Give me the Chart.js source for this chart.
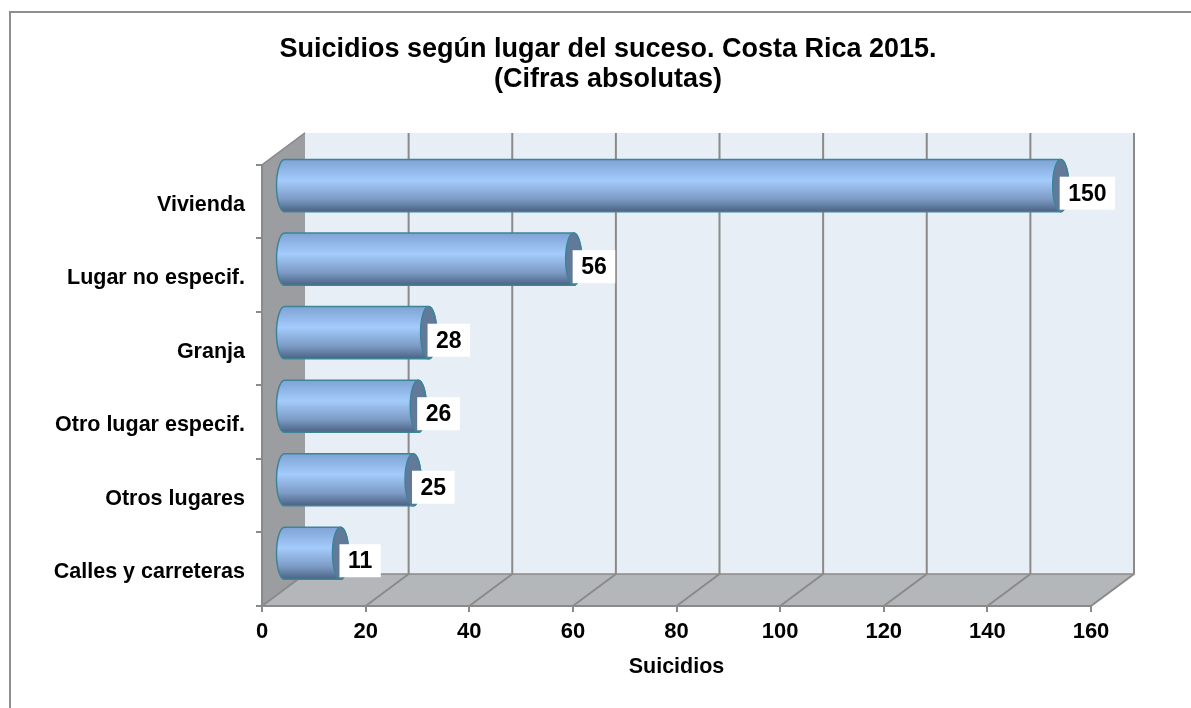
<!DOCTYPE html>
<html>
<head>
<meta charset="utf-8">
<script src="https://cdn.jsdelivr.net/npm/chart.js@4.4.1/dist/chart.umd.min.js"></script>
<style>
  html, body { margin: 0; padding: 0; background: #fff; }
  canvas { display: block; }
</style>
</head>
<body>
<canvas id="myChart1" width="1191" height="708"></canvas>
<script>
const lugares = ['Vivienda', 'Lugar no especif.', 'Granja', 'Otro lugar especif.', 'Otros lugares', 'Calles y carreteras'];
const suicidios = [150, 56, 28, 26, 25, 11];
const xTicks = [0, 20, 40, 60, 80, 100, 120, 140, 160];

const DX = 43, DY = -32; // depth of the 3d box
const fontName = '"Liberation Sans", Arial, sans-serif';

const box3d = {
    id: 'box3d',
    beforeDraw: function (chart) {
        const ctx = chart.ctx;
        const a = chart.chartArea;
        const xs = chart.scales.x;
        ctx.save();
        // outer frame
        ctx.strokeStyle = '#8e8e8e';
        ctx.lineWidth = 2;
        ctx.beginPath();
        ctx.moveTo(10, 708);
        ctx.lineTo(10, 12);
        ctx.lineTo(1191, 12);
        ctx.stroke();
        // back wall
        ctx.fillStyle = '#e8eef5';
        ctx.fillRect(a.left + DX, a.top + DY, a.right - a.left, a.bottom - a.top);
        // side wall
        ctx.fillStyle = '#9b9da1';
        ctx.beginPath();
        ctx.moveTo(a.left, a.top);
        ctx.lineTo(a.left + DX, a.top + DY);
        ctx.lineTo(a.left + DX, a.bottom + DY);
        ctx.lineTo(a.left, a.bottom);
        ctx.closePath();
        ctx.fill();
        // floor
        ctx.fillStyle = '#b4b7ba';
        ctx.beginPath();
        ctx.moveTo(a.left, a.bottom);
        ctx.lineTo(a.right, a.bottom);
        ctx.lineTo(a.right + DX, a.bottom + DY);
        ctx.lineTo(a.left + DX, a.bottom + DY);
        ctx.closePath();
        ctx.fill();
        // grid on wall and floor
        ctx.strokeStyle = '#8a8a8a';
        ctx.lineWidth = 2;
        xTicks.forEach(function (v) {
            const x = xs.getPixelForValue(v);
            ctx.beginPath();
            ctx.moveTo(x, a.bottom);
            ctx.lineTo(x + DX, a.bottom + DY);
            if (v > 0) ctx.lineTo(x + DX, a.top + DY);
            ctx.stroke();
        });
        ctx.lineWidth = 1.5;
        ctx.beginPath();
        ctx.moveTo(a.left + DX, a.bottom + DY);
        ctx.lineTo(a.right + DX, a.bottom + DY);
        ctx.moveTo(a.left, a.top);
        ctx.lineTo(a.left + DX, a.top + DY);
        ctx.stroke();
        ctx.restore();
    },
    afterDatasetsDraw: function (chart) {
        const ctx = chart.ctx;
        const meta = chart.getDatasetMeta(0);
        ctx.save();
        meta.data.forEach(function (bar, i) {
            const h = bar.height;
            const yc = bar.y + DY / 2;
            const x0 = bar.base + DX / 2;
            const x1 = bar.x + DX / 2;
            const top = yc - h / 2, bot = yc + h / 2;
            const rx = 8;
            const g = ctx.createLinearGradient(0, top, 0, bot);
            g.addColorStop(0, '#7ea3d4');
            g.addColorStop(0.4, '#a3cbfb');
            g.addColorStop(0.75, '#7d9cc6');
            g.addColorStop(1, '#4a6283');
            ctx.fillStyle = g;
            ctx.strokeStyle = '#3c8597';
            ctx.lineWidth = 1.5;
            ctx.beginPath();
            ctx.moveTo(x0, top);
            ctx.lineTo(x1, top);
            ctx.ellipse(x1, yc, rx, h / 2, 0, -Math.PI / 2, Math.PI / 2);
            ctx.lineTo(x0, bot);
            ctx.ellipse(x0, yc, rx, h / 2, 0, Math.PI / 2, Math.PI * 1.5);
            ctx.closePath();
            ctx.fill();
            ctx.stroke();
            // end cap
            ctx.fillStyle = '#62799a';
            ctx.beginPath();
            ctx.ellipse(x1, yc, rx, h / 2, 0, 0, Math.PI * 2);
            ctx.fill();
            ctx.stroke();
            // value label
            const txt = String(suicidios[i]);
            ctx.font = 'bold 23px ' + fontName;
            const w = ctx.measureText(txt).width + 17;
            const bh = 33;
            const by = yc + 7.5;
            ctx.fillStyle = '#ffffff';
            ctx.fillRect(x1 - 1, by - bh / 2, w, bh);
            ctx.fillStyle = '#000000';
            ctx.textAlign = 'center';
            ctx.textBaseline = 'middle';
            ctx.fillText(txt, x1 - 1 + w / 2, by + 1);
        });
        ctx.restore();
    }
};

const oneChart = new Chart(document.getElementById('myChart1'), {
    type: 'bar',
    data: {
        labels: lugares,
        datasets: [{
            data: suicidios,
            backgroundColor: 'rgba(0,0,0,0)',
            borderWidth: 0,
            barPercentage: 0.71,
            categoryPercentage: 1
        }]
    },
    options: {
        indexAxis: 'y',
        responsive: false,
        animation: false,
        devicePixelRatio: 1,
        layout: { padding: { left: 25, right: 0, top: 0, bottom: 0 } },
        plugins: {
            legend: { display: false },
            tooltip: { enabled: false },
            title: {
                display: true,
                text: ['Suicidios según lugar del suceso. Costa Rica 2015.', '(Cifras absolutas)'],
                color: '#000',
                font: { family: fontName, size: 27, weight: 'bold', lineHeight: 1.11 },
                padding: { top: 35, bottom: 70 }
            }
        },
        scales: {
            x: {
                min: 0,
                max: 160,
                ticks: {
                    stepSize: 20,
                    color: '#000',
                    padding: 7,
                    font: { family: fontName, size: 22, weight: 'bold' }
                },
                grid: { drawOnChartArea: false, drawTicks: true, tickLength: 6, color: '#8a8a8a', lineWidth: 2 },
                border: { display: true, color: '#8a8a8a', width: 2 },
                title: {
                    display: true,
                    text: 'Suicidios',
                    color: '#000',
                    font: { family: fontName, size: 21.5, weight: 'bold' },
                    padding: { top: 0, bottom: 28 }
                },
                afterFit: function (scale) { scale.height = 102; }
            },
            y: {
                ticks: {
                    color: '#000',
                    padding: 11,
                    labelOffset: 3,
                    font: { family: fontName, size: 21.5, weight: 'bold' }
                },
                grid: { drawOnChartArea: false, drawTicks: true, tickLength: 6, color: '#8a8a8a', lineWidth: 2 },
                border: { display: true, color: '#8a8a8a', width: 2 },
                afterFit: function (scale) { scale.width = 237; }
            },
            // empty box on the right, keeps the room the 3d depth needs
            yRight: {
                position: 'right',
                type: 'category',
                labels: lugares,
                ticks: { display: false },
                grid: { display: false },
                border: { display: false },
                afterFit: function (scale) { scale.width = 100; }
            }
        }
    },
    plugins: [box3d]
});
</script>
</body>
</html>
